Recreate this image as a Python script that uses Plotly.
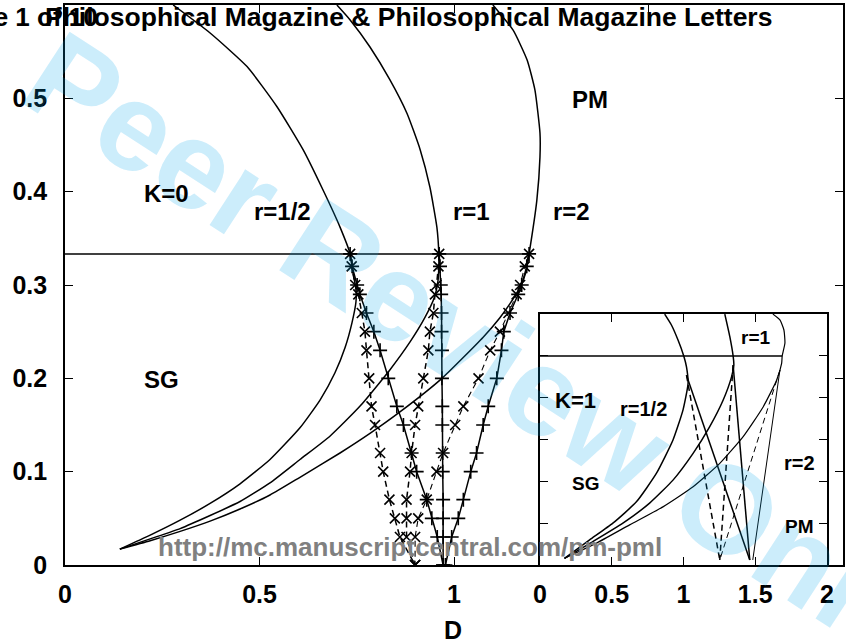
import plotly.graph_objects as go

# ---------------- data: main panel (K = 0) ----------------
T_STAR_MAIN = 1 / 3
D_STAR_END_MAIN = 1.193

r_half_D = [0.141, 0.219, 0.296, 0.373, 0.450, 0.527, 0.604, 0.656, 0.694, 0.720, 0.738, 0.748, 0.748, 0.740, 0.733,
            0.707, 0.663, 0.612, 0.545, 0.468, 0.373, 0.278]
r_half_T = [0.017, 0.032, 0.048, 0.066, 0.087, 0.113, 0.147, 0.177, 0.206, 0.233, 0.260, 0.282, 0.295, 0.314, 0.3333,
            0.362, 0.402, 0.445, 0.491, 0.534, 0.570, 0.600]

r_one_D = [0.141, 0.219, 0.296, 0.373, 0.450, 0.527, 0.604, 0.681, 0.758, 0.835, 0.887, 0.925, 0.949, 0.959, 0.961, 0.961,
           0.956, 0.938, 0.913, 0.879, 0.835, 0.784, 0.733, 0.699]
r_one_T = [0.017, 0.028, 0.039, 0.053, 0.068, 0.088, 0.113, 0.138, 0.170, 0.209, 0.239, 0.265, 0.286, 0.305, 0.320, 0.3333,
           0.362, 0.405, 0.445, 0.484, 0.520, 0.555, 0.584, 0.600]

r_two_D = [0.141, 0.219, 0.296, 0.373, 0.450, 0.527, 0.604, 0.707, 0.784, 0.861, 0.969, 1.075, 1.118, 1.144, 1.170,
           1.185, 1.193, 1.213, 1.221, 1.221, 1.208, 1.188, 1.152, 1.100]
r_two_T = [0.017, 0.026, 0.036, 0.047, 0.060, 0.075, 0.094, 0.120, 0.141, 0.164, 0.200, 0.244, 0.265, 0.280, 0.298,
           0.314, 0.3333, 0.391, 0.437, 0.463, 0.509, 0.541, 0.573, 0.600]

# temperatures of the simulated points (shared by the six marker curves)
mk_T = [0.3333, 0.32, 0.30, 0.29, 0.27, 0.25, 0.23, 0.20, 0.17, 0.15, 0.12, 0.10, 0.07, 0.05, 0.03, 0.0]

half_dash_D = [0.733, 0.737, 0.746, 0.754, 0.763, 0.771, 0.775, 0.782, 0.788, 0.797, 0.810, 0.818, 0.834, 0.848, 0.861, 0.900]
half_solid_D = [0.733, 0.738, 0.751, 0.758, 0.775, 0.794, 0.810, 0.831, 0.853, 0.870, 0.891, 0.904, 0.930, 0.943, 0.957, 0.972]
one_dash_D = [0.962, 0.960, 0.955, 0.951, 0.947, 0.938, 0.934, 0.921, 0.908, 0.900, 0.891, 0.887, 0.878, 0.878, 0.878, 0.900]
one_solid_D = [0.962, 0.964, 0.966, 0.967, 0.968, 0.968, 0.969, 0.969, 0.970, 0.970, 0.971, 0.971, 0.972, 0.972, 0.972, 0.972]
two_dash_D = [1.193, 1.182, 1.170, 1.161, 1.140, 1.118, 1.093, 1.063, 1.024, 1.003, 0.972, 0.955, 0.930, 0.908, 0.900, 0.900]
two_solid_D = [1.193, 1.187, 1.174, 1.165, 1.144, 1.128, 1.122, 1.110, 1.088, 1.075, 1.058, 1.043, 1.024, 1.011, 0.994, 0.978]

# ---------------- data: inset (K = 1) ----------------
T_STAR_INSET = 0.5
D_STAR_END_INSET = 1.688

in_half_D = [0.171, 0.346, 0.508, 0.672, 0.811, 0.927, 0.997, 1.032, 1.021, 1.002, 0.962, 0.916, 0.869]
in_half_T = [0.016, 0.060, 0.100, 0.151, 0.219, 0.299, 0.371, 0.434, 0.474, 0.500, 0.538, 0.574, 0.600]
in_one_D = [0.171, 0.369, 0.578, 0.764, 0.927, 1.067, 1.183, 1.276, 1.335, 1.351, 1.346, 1.323, 1.288]
in_one_T = [0.016, 0.056, 0.100, 0.148, 0.203, 0.267, 0.331, 0.394, 0.450, 0.478, 0.500, 0.546, 0.600]
in_two_D = [0.171, 0.392, 0.625, 0.857, 1.067, 1.253, 1.416, 1.555, 1.649, 1.684, 1.688, 1.707, 1.700, 1.672, 1.623]
in_two_T = [0.016, 0.052, 0.096, 0.139, 0.187, 0.243, 0.307, 0.378, 0.442, 0.482, 0.500, 0.531, 0.562, 0.586, 0.600]

# straight branches below the multicritical points: (start, end)
in_half_dash = ([1.021, 1.253], [0.454, 0.012])
in_half_solid = ([1.021, 1.462], [0.454, 0.012])
in_one_dash = ([1.346, 1.253], [0.478, 0.012])
in_one_solid = ([1.346, 1.462], [0.478, 0.012])
in_two_dash = ([1.672, 1.253], [0.466, 0.012])
in_two_solid = ([1.672, 1.483], [0.466, 0.012])

main_ticks_x = [0, 0.5, 1, 1.5, 2]
main_ticktext_x = ["0", "0.5", "1", "", ""]
y_ticks = [0, 0.1, 0.2, 0.3, 0.4, 0.5, 0.6]
inset_ticks_x = [0, 0.5, 1, 1.5, 2]

# ---------------- figure ----------------
FONT = "Liberation Sans"
BLACK = "black"
fig = go.Figure()


def line(x, y, xa="x", ya="y", width=1.5, dash="solid", spline=True):
    fig.add_trace(go.Scatter(
        x=x, y=y, mode="lines", xaxis=xa, yaxis=ya, showlegend=False, hoverinfo="skip",
        line=dict(color=BLACK, width=width, dash=dash, shape="spline" if spline else "linear",
                  smoothing=0.5 if spline else 0)))


def marked(x, y, symbol, dash, width=1.5):
    fig.add_trace(go.Scatter(
        x=x, y=y, mode="lines+markers", showlegend=False, hoverinfo="skip",
        line=dict(color=BLACK, width=width, dash=dash),
        marker=dict(symbol=symbol, size=10, color=BLACK, line=dict(color=BLACK, width=1.6))))


# main panel
line([0, D_STAR_END_MAIN], [T_STAR_MAIN, T_STAR_MAIN], spline=False)
line(r_half_D, r_half_T)
line(r_one_D, r_one_T)
line(r_two_D, r_two_T)
DASH = "6px,4px"
marked(half_dash_D, mk_T, "x-thin-open", DASH)
marked(half_solid_D, mk_T, "cross-thin-open", "solid")
marked(one_dash_D, mk_T, "x-thin-open", DASH)
marked(one_solid_D, mk_T, "cross-thin-open", "solid")
marked(two_dash_D, mk_T, "x-thin-open", DASH, width=1.1)
marked(two_solid_D, mk_T, "cross-thin-open", "solid")

# inset
line([0, D_STAR_END_INSET], [T_STAR_INSET, T_STAR_INSET], "x2", "y2", spline=False)
line(in_half_D, in_half_T, "x2", "y2")
line(in_one_D, in_one_T, "x2", "y2")
line(in_two_D, in_two_T, "x2", "y2", width=1.2)
line(*in_half_dash, "x2", "y2", dash=DASH, spline=False)
line(*in_half_solid, "x2", "y2", spline=False)
line(*in_one_dash, "x2", "y2", dash=DASH, spline=False)
line(*in_one_solid, "x2", "y2", spline=False)
line(*in_two_dash, "x2", "y2", width=1.0, dash=DASH, spline=False)
line(*in_two_solid, "x2", "y2", width=1.0, spline=False)

tickfont = dict(family=FONT, size=25, color=BLACK, weight="bold")
common = dict(showline=True, linecolor=BLACK, linewidth=1.6, mirror="ticks", ticks="inside",
              ticklen=8, tickwidth=1.4, tickcolor=BLACK, showgrid=False, zeroline=False,
              tickfont=tickfont, automargin=False)

fig.update_layout(
    width=846, height=643,
    margin=dict(l=65, r=3, t=5, b=78, autoexpand=False),
    paper_bgcolor="white", plot_bgcolor="white",
    xaxis=dict(range=[0, 2], domain=[0, 1], tickvals=main_ticks_x, ticktext=main_ticktext_x,
               ticklabelstandoff=6, **common),
    yaxis=dict(range=[0, 0.6], domain=[0, 1], tickvals=y_ticks, ticklabelstandoff=11, **common),
    xaxis2=dict(range=[0, 2], domain=[0.6105, 0.9794], anchor="y2", tickvals=inset_ticks_x,
                ticklabelstandoff=6, **common),
    yaxis2=dict(range=[0, 0.6], domain=[0, 0.448], anchor="x2", tickvals=[0.1, 0.2, 0.3, 0.4, 0.5],
                showticklabels=False, **common),
)


def label(text, x, y, size, xa="x", ya="y", color=BLACK, xanchor="center"):
    fig.add_annotation(text=text, x=x, y=y, xref=xa, yref=ya, showarrow=False,
                       xanchor=xanchor, yanchor="middle",
                       font=dict(family=FONT, size=size, color=color, weight="bold"))


# watermark (semi-transparent so lines stay visible through it)
fig.add_annotation(text="Peer Review Only", x=0.533, y=0.3875, xref="paper", yref="paper",
                   showarrow=False, textangle=33, xanchor="center", yanchor="middle",
                   font=dict(family=FONT, size=125, color="rgba(0,165,235,0.2)", weight="bold"))

label("PM", 1.350, 0.499, 24)
label("K=0", 0.262, 0.398, 24)
label("r=1/2", 0.560, 0.379, 24)
label("r=1", 1.046, 0.379, 24)
label("r=2", 1.301, 0.379, 24)
label("SG", 0.249, 0.199, 24)

label("r=1", 1.504, 0.543, 19, "x2", "y2")
label("K=1", 0.248, 0.394, 22, "x2", "y2")
label("r=1/2", 0.723, 0.373, 20, "x2", "y2")
label("r=2", 1.812, 0.244, 20, "x2", "y2")
label("SG", 0.318, 0.194, 19, "x2", "y2")
label("PM", 1.812, 0.093, 19, "x2", "y2")

label("D", 0.4987, -0.116, 25, "paper", "paper")

# page header and footer of the manuscript
label("Philosophical Magazine & Philosophical Magazine Letters", 0.442, 0.979, 26.5, "paper", "paper")
label("Page 1 of 10", (100 - 65) / 778, 0.979, 26, "paper", "paper", xanchor="right")
label("http://mc.manuscriptcentral.com/pm-pml", 0.443, 0.032, 26, "paper", "paper",
      color="rgb(128,128,128)")

# the page's default 8px body margin would shift the figure inside the window
fig.write_html("out.html", config={"displayModeBar": False},
               post_script="document.body.style.margin='0';")
